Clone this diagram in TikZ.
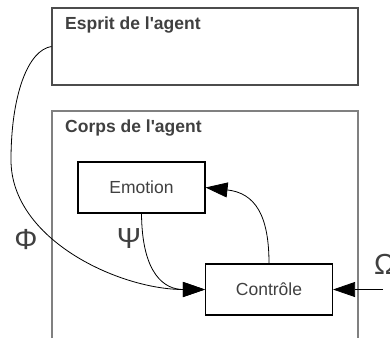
\documentclass[tikz,border=0pt]{standalone}
\usepackage{fontspec}
\setmainfont{Liberation Sans}[Ligatures=TeXOff]
\usetikzlibrary{arrows.meta}
\definecolor{txt}{HTML}{404040}
\begin{document}
\begin{tikzpicture}[x=1pt,y=-1pt,
  title/.style={anchor=west,font=\fontsize{17.5}{20}\selectfont\bfseries,text=txt,inner sep=0pt},
  block/.style={draw=black,line width=1.1pt,fill=white,minimum width=127pt,minimum height=51pt,inner sep=0pt,font=\fontsize{17.5}{20}\selectfont,text=txt},
  greek/.style={font=\fontsize{29}{31}\selectfont,text=txt,inner sep=0pt},
  conn/.style={line width=0.8pt,-{Triangle[length=22pt,width=15pt]}}]
\useasboundingbox (0,0) rectangle (390,338);
% Esprit box
\node[draw=black!70,line width=1.1pt,fill=white,minimum width=306pt,minimum height=77pt,inner sep=0pt] (esprit) at (205,46.5) {};
\node[title] (esprittitle) at (65,25) {Esprit de l'agent};
% Corps box (open at bottom)
\coordinate (cbl) at (52,338);
\coordinate (ctl) at (52,111);
\coordinate (ctr) at (358,111);
\coordinate (cbr) at (358,338);
\draw[draw=black!50,line width=1.3pt] (cbl) -- (ctl) -- (ctr) -- (cbr);
\node[title] (corpstitle) at (65,128) {Corps de l'agent};
% inner blocks
\node[block] (emotion) at (141.5,187.5) {Emotion};
\node[block] (controle) at (269,289.5) {Contrôle};
% labels
\node[greek] (phi) at (26,240) {Φ};
\node[greek] (psi) at (129,239) {Ψ};
\node[greek] (omega) at (385,264) {Ω};
\coordinate (omegastart) at (383,289.5);
% connectors
\draw[conn] (esprit.west) .. controls (28,50) and (11,95) .. (11,160)
  .. controls (11,240) and (120,289.5) .. (controle.west);
\draw[conn] (emotion.south) .. controls (142,275) and (165,289.5) .. (controle.west);
\draw[conn] (controle.north) .. controls (269,215) and (255,193) .. (emotion.east);
\draw[conn] (omegastart) -- (controle.east);
\end{tikzpicture}
\end{document}
